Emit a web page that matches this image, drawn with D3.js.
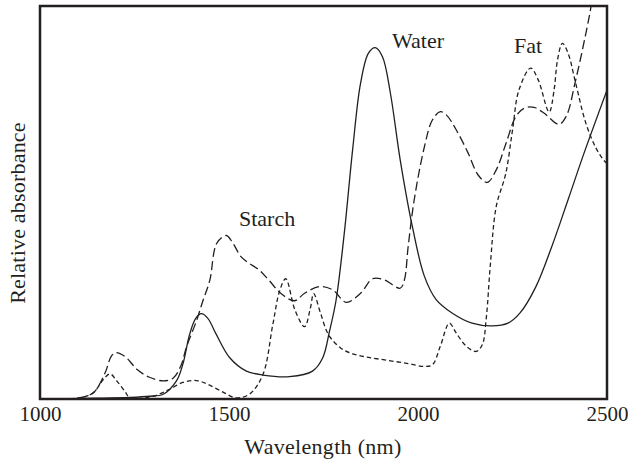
<!DOCTYPE html>
<html><head><meta charset="utf-8">
<script src="https://cdn.jsdelivr.net/npm/d3@7"></script>
<style>body{margin:0;background:#fff}svg{display:block}text{font-family:"Liberation Serif","Times New Roman",serif;fill:#231f20}</style>
</head><body><svg id="c" width="628" height="461"></svg>
<script>
const xTicks = [1000, 1500, 2000, 2500];
const seriesNames = ["Water", "Starch", "Fat"];
const waterNm  = [1000,1077,1150,1238,1290,1326,1361,1378,1396,1412,1427,1444,1466,1502,1546,1590,1660,1721,1748,1766,1783,1805,1827,1848,1869,1887,1906,1927,1953,1985,2017,2048,2090,2143,2196,2238,2270,2312,2354,2397,2439,2500];
const waterVal = [0,0.1,0.2,0.4,0.7,1.2,4.6,8.9,16.5,20.5,21.7,20.5,16.5,10.5,7.1,6.1,5.7,7.1,10.5,17.3,25.0,42.2,63.4,80.3,88.0,89.4,87.1,77.8,60.8,43.9,31.2,25.3,21.9,19.3,18.6,19.3,21.9,28.6,38.8,50.7,62.5,78.6];
const starchNm  = [1098,1140,1172,1188,1200,1225,1257,1288,1326,1352,1373,1387,1414,1431,1449,1468,1493,1510,1531,1552,1579,1605,1637,1673,1700,1739,1774,1810,1848,1880,1911,1953,1964,1974,1990,2017,2038,2059,2075,2101,2133,2159,2183,2207,2233,2259,2281,2307,2334,2373,2392,2417,2444,2458,2475];
const starchVal = [0.2,1.5,6.6,10.8,11.8,10.8,7.5,5.6,4.6,5.3,8.5,13.1,19.9,25.0,30.1,39.7,41.6,39.7,36.3,34.6,32.9,30.3,26.9,25.0,26.9,28.6,27.8,24.6,26.9,30.6,30.3,28.2,30.3,38.8,50.7,64.2,71.0,73.1,72.3,68.5,62.5,57.0,55.1,58.3,65.1,71.9,74.0,74.2,72.7,69.9,71.9,81.1,93.0,100,112];
const fatNm  = [1098,1140,1167,1185,1204,1225,1238,1299,1341,1378,1414,1447,1489,1519,1555,1590,1616,1634,1650,1675,1700,1715,1724,1742,1763,1795,1827,1869,1922,1974,2017,2038,2059,2083,2101,2128,2154,2170,2181,2191,2207,2232,2250,2267,2298,2318,2347,2360,2369,2382,2397,2417,2444,2470,2492,2500];
const fatVal = [0,1.5,4.9,6.4,4.5,1.9,0.3,0.7,2.4,4.2,4.7,3.6,1.5,0.3,1.3,6.3,19.0,27.5,30.6,22.5,18.4,23.0,26.8,21.9,16.4,13.0,11.5,10.6,9.8,9.0,8.3,8.7,13.4,19.3,16.8,13.4,12.1,13.8,21.0,33.7,49.0,57.3,68.4,78.6,84.2,81.2,73.0,78.6,86.2,90.5,88.0,80.4,70.2,64.0,60.7,60.0];

const svg = d3.select("#c");
const L = 40, R = 607, T = 6, B = 399;
const x = d3.scaleLinear().domain([1000, 2500]).range([L, R]);
const y = d3.scaleLinear().domain([0, 100]).range([B, T]);
const ink = "#231f20";

svg.append("clipPath").attr("id","clip").append("rect")
  .attr("x", L).attr("y", T).attr("width", R - L).attr("height", B - T);

const line = d3.line().x(d => x(d[0])).y(d => y(d[1])).curve(d3.curveCatmullRom.alpha(0.5));
const series = [
  {nm: waterNm, v: waterVal, dash: null},
  {nm: starchNm, v: starchVal, dash: "9,4"},
  {nm: fatNm, v: fatVal, dash: "4.5,3"}
];
const g = svg.append("g").attr("clip-path","url(#clip)");
series.forEach(s => {
  g.append("path").datum(s.nm.map((n,i)=>[n, s.v[i]]))
    .attr("d", line).attr("fill","none").attr("stroke", ink)
    .attr("stroke-width", 1.3).attr("stroke-dasharray", s.dash);
});

// frame
svg.append("rect").attr("x", L).attr("y", T).attr("width", R - L).attr("height", B - T)
  .attr("fill","none").attr("stroke", ink).attr("stroke-width", 2.5);

// x axis labels
const xAxis = d3.axisBottom(x).tickValues(xTicks).tickSize(0).tickPadding(0).tickFormat(d3.format("d"));
const ax = svg.append("g").attr("transform", `translate(0,${B})`).call(xAxis);
ax.select(".domain").remove();
ax.selectAll("text").attr("dy", null).attr("y", 22).attr("font-size", 21)
  .style("font-family", '"Liberation Serif",serif').attr("fill", ink);

svg.append("text").attr("x", 323).attr("y", 454).attr("text-anchor","middle")
  .attr("font-size", 22).attr("letter-spacing", 0.3).text("Wavelength (nm)");
svg.append("text").attr("transform","translate(25,213) rotate(-90)").attr("text-anchor","middle")
  .attr("font-size", 22).attr("letter-spacing", 0.2).text("Relative absorbance");

// series labels
const lab = [[seriesNames[0], 392, 48], [seriesNames[1], 239, 226], [seriesNames[2], 514, 53]];
lab.forEach(l => svg.append("text").attr("x", l[1]).attr("y", l[2]).attr("font-size", 22).text(l[0]));
</script></body></html>
